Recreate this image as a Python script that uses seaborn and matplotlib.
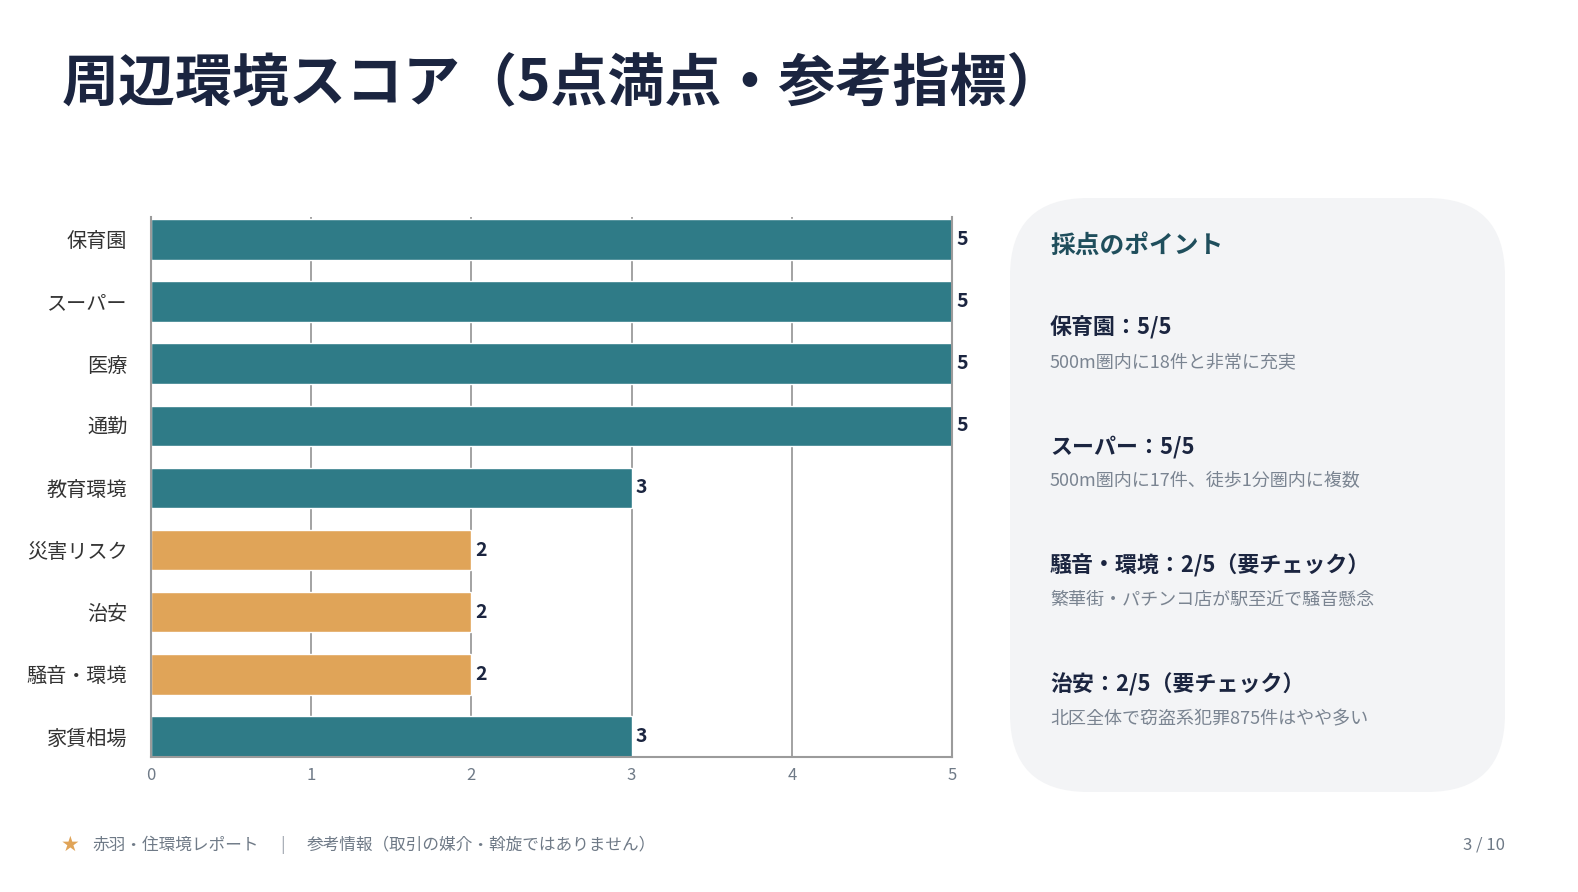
import pandas as pd
import seaborn as sns
import matplotlib.pyplot as plt
from matplotlib.patches import FancyBboxPatch

# chart data
categories = ["保育園", "スーパー", "医療", "通勤", "教育環境", "災害リスク", "治安", "騒音・環境", "家賃相場"]
scores = [5, 5, 5, 5, 3, 2, 2, 2, 3]
groups = ["good", "good", "good", "good", "good", "check", "check", "check", "good"]
x_ticks = [0, 1, 2, 3, 4, 5]

# side panel text
panel_heading = "採点のポイント"
point_titles = ["保育園：5/5", "スーパー：5/5", "騒音・環境：2/5（要チェック）", "治安：2/5（要チェック）"]
point_notes = ["500m圏内に18件と非常に充実", "500m圏内に17件、徒歩1分圏内に複数",
               "繁華街・パチンコ店が駅至近で騒音懸念", "北区全体で窃盗系犯罪875件はやや多い"]

TITLE = "周辺環境スコア（5点満点・参考指標）"
FOOTER_LEFT = "赤羽・住環境レポート"
FOOTER_MID = "参考情報（取引の媒介・斡旋ではありません）"
PAGE = "3 / 10"

TEAL = "#2F7B87"
ORANGE = "#E0A458"
NAVY = "#1B2540"
GRID = "#9B9B9B"
GRAY_TXT = "#6F7A87"

sns.set_style("white")
plt.rcParams['font.family'] = ['Noto Sans CJK JP', 'DejaVu Sans']

df = pd.DataFrame({"category": categories, "score": scores, "group": groups})

W, H = 1578, 892
fig = plt.figure(figsize=(W / 100, H / 100), dpi=100)

# background layer in pixel coordinates
bg = fig.add_axes([0, 0, 1, 1])
bg.set_xlim(0, W)
bg.set_ylim(H, 0)
bg.axis("off")

bg.text(62, 84, TITLE, fontsize=41, fontweight="bold", color=NAVY, va="center", ha="left")

panel = FancyBboxPatch((1010, 198), 495, 594, boxstyle="round,pad=0,rounding_size=78",
                       facecolor="#F3F4F6", edgecolor="none")
bg.add_patch(panel)
bg.text(1050, 246, panel_heading, fontsize=17.8, fontweight="bold", color="#1F4E5C", va="center")
for i, (t, n) in enumerate(zip(point_titles, point_notes)):
    y0 = 328 + i * 119
    bg.text(1050, y0, t, fontsize=15.8, fontweight="bold", color=NAVY, va="center")
    bg.text(1050, y0 + 34, n, fontsize=13, color="#7A8491", va="center")

# footer
bg.text(70, 845, "★", fontsize=15, color=ORANGE, va="center", ha="center",
        family=['DejaVu Sans'])
bg.text(92, 845, FOOTER_LEFT, fontsize=12, color=GRAY_TXT, va="center")
bg.text(283, 845, "|", fontsize=12, color="#A0A7B0", va="center", ha="center")
bg.text(307, 845, FOOTER_MID, fontsize=12, color=GRAY_TXT, va="center")
bg.text(1505, 845, PAGE, fontsize=12, color=GRAY_TXT, va="center", ha="right")

# bar chart
ax = fig.add_axes([151 / W, 1 - 757 / H, (952 - 151) / W, (757 - 217) / H])
sns.barplot(data=df, y="category", x="score", hue="group", dodge=False,
            palette={"good": TEAL, "check": ORANGE}, width=0.65, legend=False,
            saturation=1, ax=ax)
for c in ax.containers:
    ax.bar_label(c, fmt="%d", padding=3, fontsize=14, fontweight="bold", color=NAVY)

ax.set_xlim(0, 5)
ax.set_ylim(8.33, -0.36)
ax.set_xticks(x_ticks)
ax.set_xlabel("")
ax.set_ylabel("")
ax.set_axisbelow(True)
ax.grid(axis="x", color=GRID, linewidth=1.3)
ax.grid(axis="y", visible=False)
ax.spines["top"].set_visible(False)
for s in ["left", "bottom", "right"]:
    ax.spines[s].set_color(GRID)
    ax.spines[s].set_linewidth(1.5)
ax.tick_params(axis="x", length=4, color=GRID, width=1.2, labelsize=12, labelcolor=GRAY_TXT, pad=3)
ax.tick_params(axis="y", length=0, labelsize=14.5, labelcolor="#333333", pad=17)
ax.patch.set_alpha(0)

fig.savefig("out.png", dpi=100)
